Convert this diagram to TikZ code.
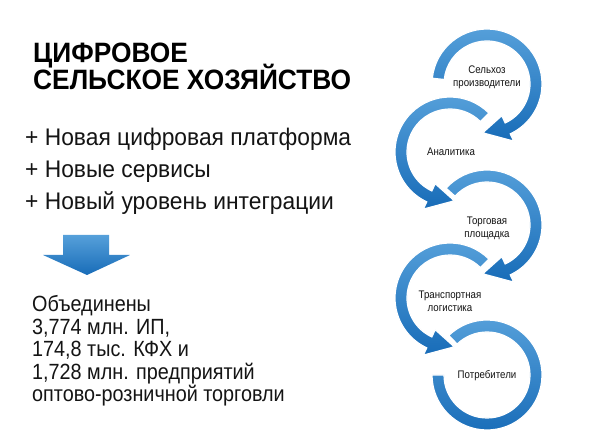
\documentclass[tikz,border=0pt]{standalone}
\usepackage{fontspec}
\setmainfont{Liberation Sans}[FakeStretch=0.85]
\newfontfamily\titlefont{Liberation Sans}[FakeStretch=0.94]
\newfontfamily\bulletfont{Liberation Sans}[FakeStretch=0.95]
\newfontfamily\resfont{Liberation Sans}[FakeStretch=0.90]
\newfontfamily\ringfont{Liberation Sans}[FakeStretch=0.88]
\usetikzlibrary{calc}
\definecolor{ringlight}{RGB}{86,160,218}
\definecolor{ringdark}{RGB}{24,108,184}
\definecolor{txt}{RGB}{20,20,20}
\tikzset{
  ringshape/.style={draw=white, line width=1.2pt, top color=ringlight, bottom color=ringdark},
  ringlabel/.style={font=\ringfont\fontsize{11}{13}\selectfont, text=txt, align=center, inner sep=0pt},
  titletext/.style={font=\titlefont\fontsize{28}{28}\selectfont\bfseries, text=black, anchor=base west, inner sep=0pt},
  bullettext/.style={font=\bulletfont\fontsize{24}{24}\selectfont, text=txt, anchor=base west, inner sep=0pt},
}
\newcommand\ringcw[3]{%
  \path[ringshape] ($(#1)+(#2:55)$) arc[start angle=#2, end angle=#3, radius=55]
    -- ($(#1)+(#3:63)$) -- ($(#1)+(#3-30:49)$) -- ($(#1)+(#3:35)$) -- ($(#1)+(#3:43)$)
    arc[start angle=#3, end angle=#2, radius=43] -- cycle;}
\newcommand\ringccw[3]{%
  \path[ringshape] ($(#1)+(#2:55)$) arc[start angle=#2, end angle=#3, radius=55]
    -- ($(#1)+(#3:63)$) -- ($(#1)+(#3+30:49)$) -- ($(#1)+(#3:35)$) -- ($(#1)+(#3:43)$)
    arc[start angle=#3, end angle=#2, radius=43] -- cycle;}
\begin{document}
\begin{tikzpicture}[x=1pt,y=1pt]
\useasboundingbox (0,0) rectangle (591,443);
\fill[white] (0,0) rectangle (591,443);
% ring centres
\coordinate (c1) at (487,359);
\coordinate (c2) at (450,291);
\coordinate (c3) at (487,218);
\coordinate (c4) at (450,145);
\coordinate (c5) at (487,68);
% rings drawn bottom to top so arrowheads overlap the next ring
\path[ringshape] ($(c5)+(134:55)$) arc[start angle=134, end angle=-180, radius=55]
   -- ($(c5)+(180:43)$) arc[start angle=-180, end angle=134, radius=43] -- cycle;
\ringccw{c4}{45}{245}
\ringcw{c3}{138}{-65}
\ringccw{c2}{45}{245}
\ringcw{c1}{174}{-65}
% ring labels
\node[ringlabel] (l1) at (487,366) {Сельхоз\\производители};
\node[ringlabel] (l2) at (451,291) {Аналитика};
\node[ringlabel] (l3) at (487,215) {Торговая\\площадка};
\node[ringlabel] (l4) at (450,142) {Транспортная\\логистика};
\node[ringlabel] (l5) at (487,67) {Потребители};
% title
\node[titletext] (t1) at (33,380) {ЦИФРОВОЕ};
\node[titletext] (t2) at (33,353) {СЕЛЬСКОЕ ХОЗЯЙСТВО};
% bullets
\node[bullettext] (b1) at (25,297) {+ Новая цифровая платформа};
\node[bullettext] (b2) at (25,265) {+ Новые сервисы};
\node[bullettext] (b3) at (25,233) {+ Новый уровень интеграции};
% down arrow
\path[top color=ringlight, bottom color=ringdark] (63,208) -- (109,208) -- (109,188) -- (130,188)
   -- (87,168) -- (43,188) -- (63,188) -- cycle;
% result text
\node[anchor=base west, inner sep=0pt, align=left, text=txt,
      font=\resfont\fontsize{22}{22.5}\selectfont] (res) at (32,41)
  {Объединены\\3,774 млн. ИП,\\174,8 тыс. КФХ и\\1,728 млн. предприятий\\оптово-розничной торговли};
\end{tikzpicture}
\end{document}
